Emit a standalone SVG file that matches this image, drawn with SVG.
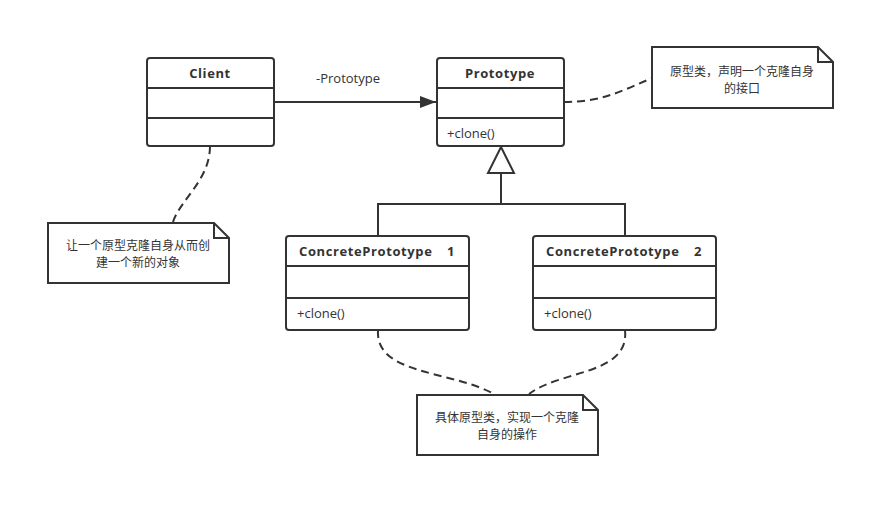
<svg xmlns="http://www.w3.org/2000/svg" width="895" height="517" viewBox="0 0 895 517">
<defs>
<style>
.box{fill:#fff;stroke:#333;stroke-width:2}
.ln{stroke:#333;stroke-width:2;fill:none}
.dash{stroke:#333;stroke-width:2;fill:none;stroke-dasharray:8 5}
.t{font-family:"Open Sans","Noto Sans CJK SC",sans-serif;font-size:13px;fill:#333}
.b{font-weight:bold;letter-spacing:0.6px}
.n{font-family:"Noto Sans CJK SC","Noto Sans",sans-serif;font-size:12px;fill:#333}
</style>
<marker id="arr" viewBox="0 0 16 12" refX="16" refY="6" markerWidth="16" markerHeight="12" markerUnits="userSpaceOnUse" orient="auto">
<path d="M0,0 L16,6 L0,12 Z" fill="#333"/>
</marker>
</defs>
<rect width="895" height="517" fill="#fff"/>
<g id="connectors">
<line class="ln" x1="274" y1="102" x2="436" y2="102" marker-end="url(#arr)"/>
<text class="t" x="348" y="83" text-anchor="middle">-Prototype</text>
<path class="ln" d="M501,173 V204 M378,236 V204 H625 V236"/>
<path class="box" d="M501,147 L514,173 L488,173 Z"/>
<path class="dash" d="M564,102 C600,102 620,92 652,78"/>
<path class="dash" d="M210,146 C210,180 180,200 173,222"/>
<path class="dash" d="M378,330 C375,375 450,370 494,394"/>
<path class="dash" d="M625,330 C630,375 560,370 529,394"/>
</g>
<g id="client">
<rect class="box" x="147" y="58" width="127" height="88" rx="3"/>
<line class="ln" x1="147" y1="88" x2="274" y2="88"/>
<line class="ln" x1="147" y1="118" x2="274" y2="118"/>
<text class="t b" x="210" y="78" text-anchor="middle">Client</text>
</g>
<g id="prototype">
<rect class="box" x="437" y="58" width="127" height="88" rx="3"/>
<line class="ln" x1="437" y1="88" x2="564" y2="88"/>
<line class="ln" x1="437" y1="118" x2="564" y2="118"/>
<text class="t b" x="500" y="78" text-anchor="middle">Prototype</text>
<text class="t" x="447" y="138">+clone()</text>
</g>
<g id="concrete1">
<rect class="box" x="286" y="236" width="183" height="94" rx="3"/>
<line class="ln" x1="286" y1="266" x2="469" y2="266"/>
<line class="ln" x1="286" y1="298" x2="469" y2="298"/>
<text class="t b" x="299" y="256">ConcretePrototype</text>
<text class="t b" x="447" y="256">1</text>
<text class="t" x="297" y="318">+clone()</text>
</g>
<g id="concrete2">
<rect class="box" x="533" y="236" width="183" height="94" rx="3"/>
<line class="ln" x1="533" y1="266" x2="716" y2="266"/>
<line class="ln" x1="533" y1="298" x2="716" y2="298"/>
<text class="t b" x="546" y="256">ConcretePrototype</text>
<text class="t b" x="694" y="256">2</text>
<text class="t" x="544" y="318">+clone()</text>
</g>
<g id="note1">
<path class="box" d="M652,47 H818 L833,62 V108 H652 Z"/>
<path class="ln" d="M818,47 V62 H833"/>
<text class="n" x="742" y="76" text-anchor="middle">原型类，声明一个克隆自身</text>
<text class="n" x="742" y="93" text-anchor="middle">的接口</text>
</g>
<g id="note2">
<path class="box" d="M48,223 H214 L229,238 V283 H48 Z"/>
<path class="ln" d="M214,223 V238 H229"/>
<text class="n" x="138" y="250" text-anchor="middle">让一个原型克隆自身从而创</text>
<text class="n" x="138" y="267" text-anchor="middle">建一个新的对象</text>
</g>
<g id="note3">
<path class="box" d="M417,395 H583 L598,410 V455 H417 Z"/>
<path class="ln" d="M583,395 V410 H598"/>
<text class="n" x="507" y="422" text-anchor="middle">具体原型类，实现一个克隆</text>
<text class="n" x="507" y="439" text-anchor="middle">自身的操作</text>
</g>
</svg>
